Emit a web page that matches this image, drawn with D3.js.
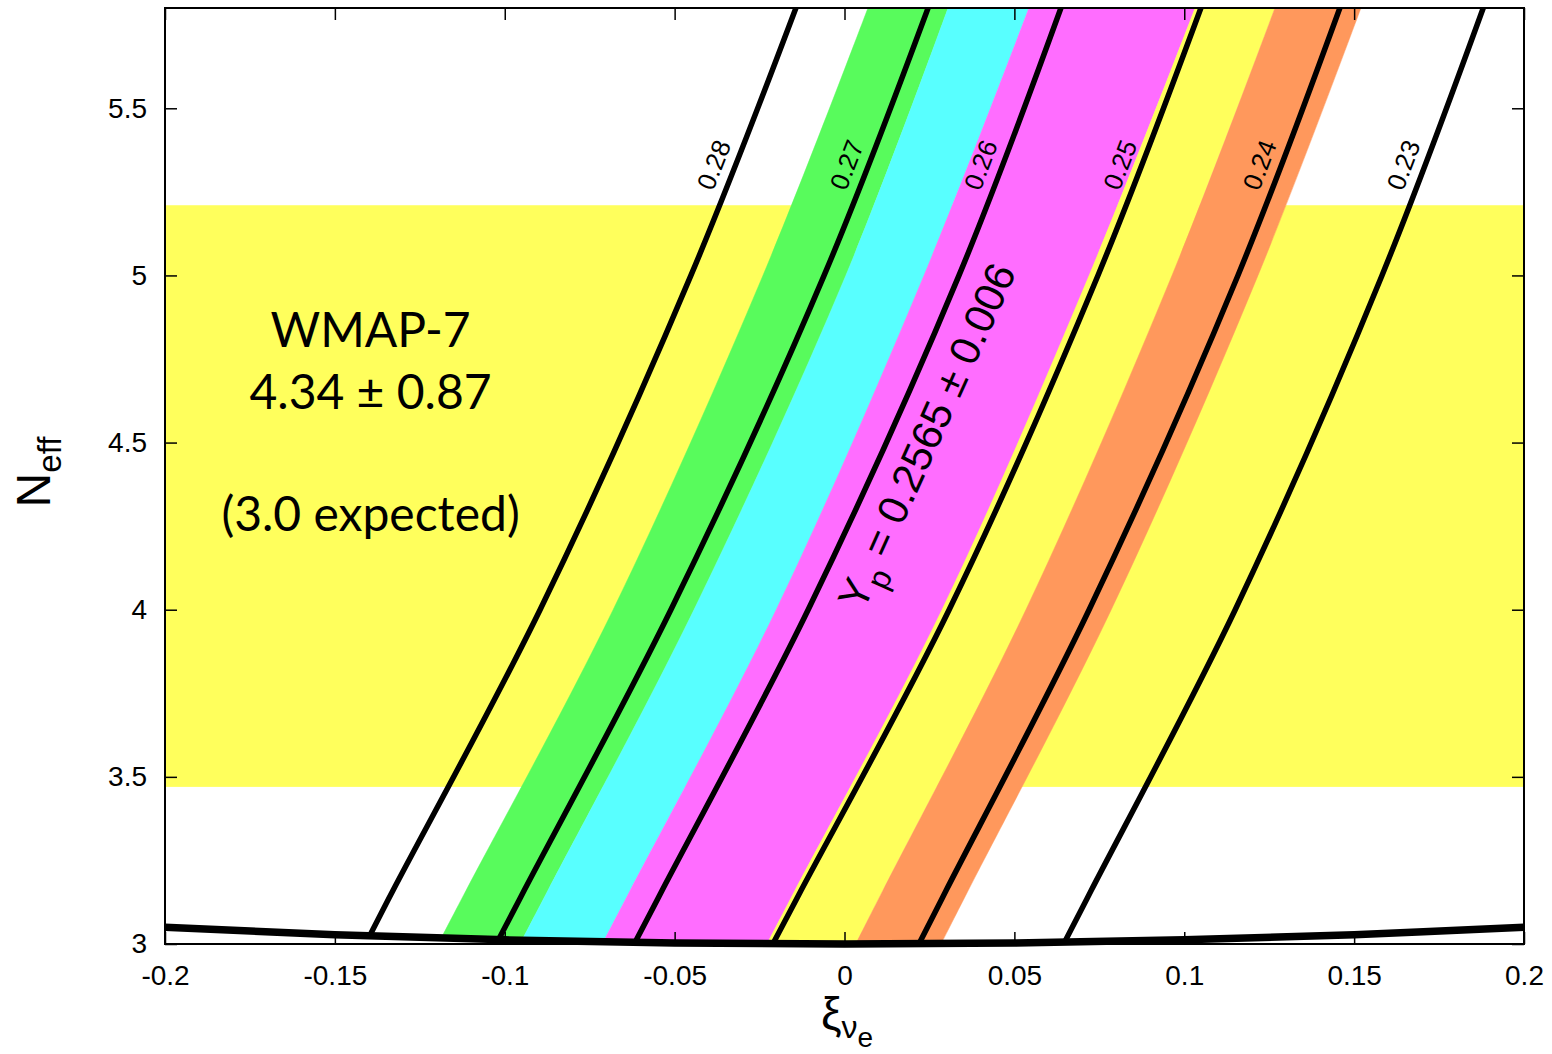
<!DOCTYPE html>
<html>
<head>
<meta charset="utf-8">
<script src="https://cdn.jsdelivr.net/npm/d3@7"></script>
<style>
  body { margin: 0; background: #fff; }
  svg text { font-family: "Liberation Sans", Arial, Helvetica, sans-serif; }
</style>
</head>
<body>
<svg id="chart" width="1552" height="1054"></svg>
<script>
const nGrid = [3.0, 3.16, 4.0, 5.0, 5.8]

// Yp = const contours, xi_nu_e at each nGrid level
const contourLabels = ['0.28', '0.27', '0.26', '0.25', '0.24', '0.23']
const contourXi = [
  [-0.1410, -0.1329, -0.0896, -0.0452, -0.0143],
  [-0.1025, -0.0943, -0.0511, -0.0060, 0.0246],
  [-0.0619, -0.0537, -0.0107, 0.0337, 0.0637],
  [-0.0211, -0.0128, 0.0308, 0.0746, 0.1049],
  [0.0219, 0.0299, 0.0720, 0.1158, 0.1458],
  [0.0645, 0.0726, 0.1150, 0.1582, 0.1880]
]

// colour band edges (left to right), xi at each nGrid level
const bandEdgeXi = [
  [-0.1196, -0.1114, -0.0681, -0.0240, 0.0069],
  [-0.0955, -0.0873, -0.0443, 0.0004, 0.0305],
  [-0.0713, -0.0631, -0.0201, 0.0234, 0.0543],
  [-0.0228, -0.0146, 0.0287, 0.0720, 0.1032],
  [0.0033, 0.0113, 0.0534, 0.0964, 0.1267],
  [0.0284, 0.0364, 0.0785, 0.1217, 0.1520]
]
const bandColors = ['#58fb5c', '#58ffff', '#ff6dff', '#ffff5c', '#ff985c']

// lower bound N_eff(xi) curve
const floorXi = [-0.2, -0.15, -0.1, -0.05, 0, 0.05, 0.1, 0.15, 0.2]
const floorN = [3.05, 3.028, 3.0125, 3.003, 3.0, 3.003, 3.0125, 3.028, 3.05]

// WMAP-7 N_eff = 4.34 +- 0.87
const wmapRange = [3.47, 5.21]
const wmapColor = '#ffff5c'

const xTicks = [-0.2, -0.15, -0.1, -0.05, 0, 0.05, 0.1, 0.15, 0.2]
const yTicks = [3, 3.5, 4, 4.5, 5, 5.5]

const plot = { left: 165, right: 1524, top: 8, bottom: 944 }

const svg = d3.select('#chart')

const x = d3.scaleLinear().domain([-0.2, 0.2]).range([plot.left, plot.right])
const y = d3.scaleLinear().domain([3, 5.8]).range([plot.bottom, plot.top])

const line = d3.line()
    .x(d => x(d[0]))
    .y(d => y(d[1]))
    .curve(d3.curveCatmullRom.alpha(0.5))

const pts = xis => xis.map((v, i) => [v, nGrid[i]])

svg.append('defs').append('clipPath')
    .attr('id', 'plotClip')
  .append('rect')
    .attr('x', plot.left).attr('y', plot.top)
    .attr('width', plot.right - plot.left)
    .attr('height', plot.bottom - plot.top)

const g = svg.append('g').attr('clip-path', 'url(#plotClip)')

// WMAP band
g.append('rect')
    .attr('x', plot.left)
    .attr('width', plot.right - plot.left)
    .attr('y', y(wmapRange[1]))
    .attr('height', y(wmapRange[0]) - y(wmapRange[1]))
    .attr('fill', wmapColor)

// colour bands between neighbouring edges
bandColors.forEach((c, i) => {
    const left = line(pts(bandEdgeXi[i]))
    const right = line(pts(bandEdgeXi[i + 1]).reverse())
    g.append('path')
        .attr('d', left + right.replace(/^M/, 'L') + 'Z')
        .attr('fill', c)
        .attr('stroke', c)
        .attr('stroke-width', 0.5)
})

// contour lines
g.selectAll('.contour')
    .data(contourXi)
    .enter().append('path')
    .attr('class', 'contour')
    .attr('d', d => line(pts(d)))
    .attr('fill', 'none')
    .attr('stroke', '#000')
    .attr('stroke-width', 5.5)

// blank out everything under the lower bound
const floorPts = floorXi.map((v, i) => [v, floorN[i]])
g.append('path')
    .attr('d', d3.area()
        .x(d => x(d[0]))
        .y0(plot.bottom + 10)
        .y1(d => y(d[1]))
        .curve(d3.curveCatmullRom.alpha(0.5))(floorPts))
    .attr('fill', '#fff')

svg.append('path')
    .attr('d', line(floorPts))
    .attr('fill', 'none')
    .attr('stroke', '#000')
    .attr('stroke-width', 7.5)

// contour labels, along the line near N_eff = 5.31
const labelN = 5.31
contourXi.forEach((d, i) => {
    const x0 = x(d[3]), y0 = y(nGrid[3])
    const x1 = x(d[4]), y1 = y(nGrid[4])
    const t = (labelN - nGrid[3]) / (nGrid[4] - nGrid[3])
    const px = x0 + t * (x1 - x0), py = y0 + t * (y1 - y0)
    const ang = Math.atan2(y1 - y0, x1 - x0) * 180 / Math.PI
    svg.append('text')
        .attr('transform', `translate(${px},${py}) rotate(${ang})`)
        .attr('y', -10)
        .attr('text-anchor', 'middle')
        .attr('font-size', 26)
        .text(contourLabels[i])
})

// Yp measurement label, rotated along the 0.26 contour
{
    const d = contourXi[2]
    const ang = Math.atan2(y(nGrid[3]) - y(nGrid[2]), x(d[3]) - x(d[2])) * 180 / Math.PI
    const lbl = svg.append('text')
        .attr('transform', `translate(${x(0.0242)},${y(4.52)}) rotate(${ang})`)
        .attr('text-anchor', 'middle')
        .attr('dy', '0.35em')
        .attr('font-size', 42)
    lbl.append('tspan').text('Y')
    lbl.append('tspan').attr('dy', 12).attr('font-size', 32).text('p')
    lbl.append('tspan').attr('dy', -12).text(' = 0.2565 \u00b1 0.006')
}

// WMAP annotation
const wmapText = svg.append('text')
    .attr('text-anchor', 'middle')
    .attr('font-size', 48)
    .style('font-family', 'Lato, "Open Sans", sans-serif')
const noteLines = ['WMAP-7', '4.34 \u00b1 0.87', '(3.0 expected)']
const noteN = [4.785, 4.60, 4.235]
noteLines.forEach((s, i) => {
    wmapText.append('tspan')
        .attr('x', x(-0.1395))
        .attr('y', y(noteN[i]))
        .text(s)
})

// axes, ticks pointing inward
const fmt = d => String(d)
svg.append('g')
    .attr('transform', `translate(0,${plot.bottom})`)
    .call(d3.axisBottom(x).tickValues(xTicks).tickFormat(fmt).tickSizeInner(-12).tickSizeOuter(0).tickPadding(21))
svg.append('g')
    .attr('transform', `translate(0,${plot.top})`)
    .call(d3.axisTop(x).tickValues(xTicks).tickFormat('').tickSizeInner(-12).tickSizeOuter(0))
svg.append('g')
    .attr('transform', `translate(${plot.left},0)`)
    .call(d3.axisLeft(y).tickValues(yTicks).tickFormat(fmt).tickSizeInner(-12).tickSizeOuter(0).tickPadding(18))
svg.append('g')
    .attr('transform', `translate(${plot.right},0)`)
    .call(d3.axisRight(y).tickValues(yTicks).tickFormat('').tickSizeInner(-12).tickSizeOuter(0))

svg.selectAll('.domain').remove()
svg.selectAll('.tick line').attr('stroke', '#000').attr('stroke-width', 1.5)
svg.selectAll('.tick text')
    .attr('font-family', '"Liberation Sans", Arial, sans-serif')
    .attr('font-size', 28)
    .attr('fill', '#000')

svg.append('rect')
    .attr('x', plot.left).attr('y', plot.top)
    .attr('width', plot.right - plot.left)
    .attr('height', plot.bottom - plot.top)
    .attr('fill', 'none')
    .attr('stroke', '#000')
    .attr('stroke-width', 2)

// axis titles
const yTitle = svg.append('text')
    .attr('transform', 'translate(50,472) rotate(-90)')
    .attr('text-anchor', 'middle')
    .attr('font-size', 48)
yTitle.append('tspan').text('N')
yTitle.append('tspan').attr('dy', 11).attr('font-size', 33).text('eff')

const xTitle = svg.append('text')
    .attr('x', 847).attr('y', 1030)
    .attr('text-anchor', 'middle')
    .attr('font-size', 46)
xTitle.append('tspan').text('\u03be')
xTitle.append('tspan').attr('dy', 8).attr('font-size', 32).text('\u03bd')
xTitle.append('tspan').attr('dy', 9).attr('font-size', 28).text('e')
</script>
</body>
</html>
